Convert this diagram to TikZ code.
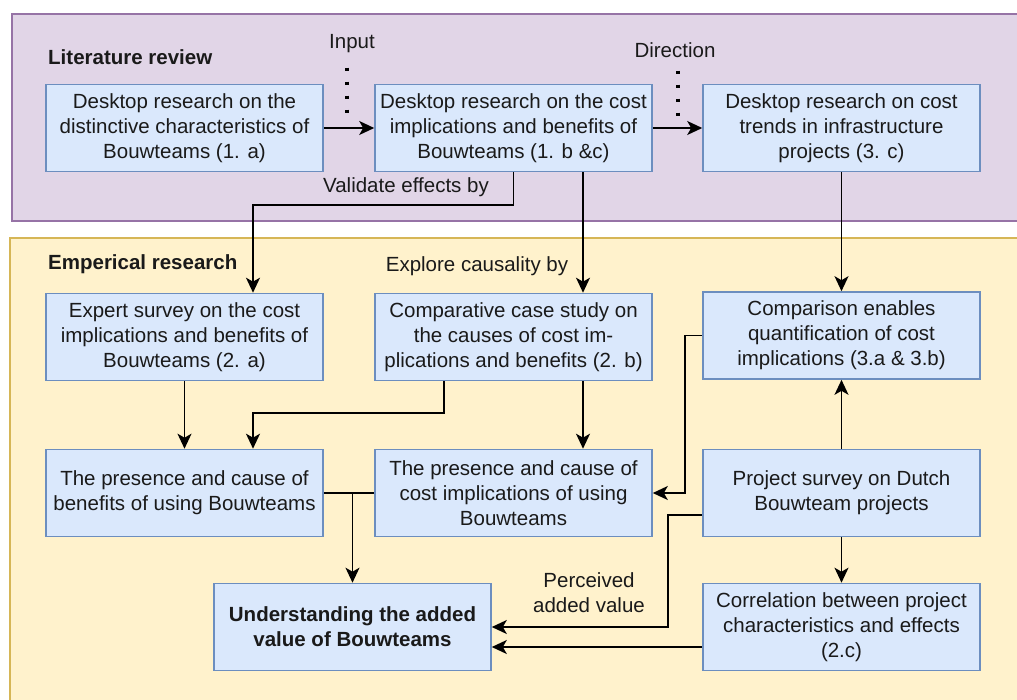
\documentclass[tikz,border=0pt]{standalone}
\usepackage{fontspec}
\setmainfont{Liberation Sans}
\usetikzlibrary{arrows.meta,calc}

\definecolor{litfill}{HTML}{E1D5E7}
\definecolor{litline}{HTML}{9673A6}
\definecolor{empfill}{HTML}{FFF2CC}
\definecolor{empline}{HTML}{D6B656}
\definecolor{boxfill}{HTML}{DAE8FC}
\definecolor{boxline}{HTML}{6C8EBF}
\definecolor{ink}{HTML}{1A1A1A}

\tikzset{
  region/.style={line width=1.6pt},
  stepbox/.style={draw=boxline, fill=boxfill, line width=1.6pt,
    minimum width=277pt, minimum height=87pt, inner sep=0pt,
    align=center, text=ink, font=\fontsize{20.5}{25}\selectfont},
  heading/.style={anchor=west, inner sep=0pt, text=ink,
    font=\fontsize{20.5}{25}\selectfont\bfseries},
  note/.style={inner sep=0pt, align=center, text=ink,
    font=\fontsize{20.5}{25}\selectfont},
  arr/.style={draw=black, line width=1.8pt,
    -{Stealth[length=15pt,width=14pt,inset=4pt]}},
  link/.style={draw=black, line width=1.8pt},
  dots/.style={draw=black, line width=3.2pt, dash pattern=on 3pt off 11pt}
}

\begin{document}
\begin{tikzpicture}[x=1pt,y=-1pt]
\useasboundingbox (0,0) rectangle (1017,699);
\begin{scope}
\clip (0,0) rectangle (1017,699);

% phase backgrounds
\draw[region, draw=litline, fill=litfill] (12,14) rectangle (1040,221);
\draw[region, draw=empline, fill=empfill] (10,238) rectangle (1040,730);

\node[heading] (lit) at (48,57) {Literature review};
\node[heading] (emp) at (48,264) {Emperical research};

% literature review steps
\node[stepbox] (A) at (184.5,128) {Desktop research on the\\distinctive characteristics of\\Bouwteams (1. a)};
\node[stepbox] (B) at (513.5,128) {Desktop research on the cost\\implications and benefits of\\Bouwteams (1. b \&c)};
\node[stepbox] (C) at (841.5,128) {Desktop research on cost\\trends in infrastructure\\projects (3. c)};

% empirical research steps
\node[stepbox] (D) at (184.5,337) {Expert survey on the cost\\implications and benefits of\\Bouwteams (2. a)};
\node[stepbox] (E) at (513.5,337) {Comparative case study on\\the causes of cost im-\\plications and benefits (2. b)};
\node[stepbox] (F) at (841.5,335.5) {Comparison enables\\quantification of cost\\implications (3.a \& 3.b)};

\node[stepbox] (G) at (184.5,493) {The presence and cause of\\benefits of using Bouwteams};
\node[stepbox] (H) at (513.5,493) {The presence and cause of\\cost implications of using\\Bouwteams};
\node[stepbox] (I) at (841.5,493) {Project survey on Dutch\\Bouwteam projects};

\node[stepbox, font=\fontsize{20.5}{25}\selectfont\bfseries] (U) at (352.5,627) {Understanding the added\\value of Bouwteams};
\node[stepbox] (K) at (841.5,627) {Correlation between project\\characteristics and effects\\(2.c)};

% edge labels
\node[note] (inp) at (352,44) {Input};
\node[note] (dir) at (675,50) {Direction};
\node[note] (val) at (406,187) {Validate effects by};
\node[note] (exp) at (477,266) {Explore causality by};
\node[note] (per) at (589,593) {Perceived\\added value};

% dotted markers under the labels
\coordinate (inA) at (347,67.5);
\coordinate (inB) at (347,112.5);
\coordinate (drA) at (678,70.5);
\coordinate (drB) at (678,115.5);
\draw[dots] (inA) -- (inB);
\draw[dots] (drA) -- (drB);

% connectors
\draw[arr] (A.east) -- (B.west);
\draw[arr] (B.east) -- (C.west);
\draw[arr] (B.south) -- ++(0,32.5) -| ([xshift=68.5pt]D.north);
\draw[arr] ([xshift=69.5pt]B.south) -- ([xshift=69.5pt]E.north);
\draw[arr] (C.south) -- (F.north);

\draw[arr] (D.south) -- (G.north);
\draw[arr] ([xshift=-69.5pt]E.south) -- ++(0,31.5) -| ([xshift=68.5pt]G.north);
\draw[arr] ([xshift=69.5pt]E.south) -- ([xshift=69.5pt]H.north);
\draw[arr] (F.west) -- ++(-17,0) |- (H.east);
\draw[arr] (I.north) -- (F.south);
\draw[arr] (I.south) -- (K.north);

\draw[link] (G.east) -- (H.west);
\draw[arr] (G.east -| U.north) -- (U.north);
\draw[arr] ([yshift=-22pt]I.west) -- ++(-34,0) |- (U.east);
\draw[arr] ([yshift=-20pt]K.west) -- ([yshift=-20pt]U.east);
\end{scope}
\end{tikzpicture}
\end{document}
